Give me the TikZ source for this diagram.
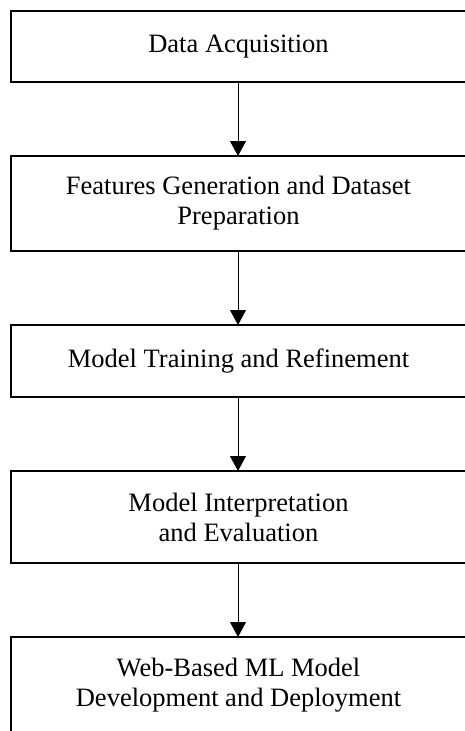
\documentclass[tikz,border=0pt]{standalone}
\usepackage{fontspec}
\setmainfont{Liberation Serif}
\usepackage{tikz}
\usetikzlibrary{arrows.meta,positioning}

\begin{document}
\begin{tikzpicture}[x=1pt, y=1pt,
  stagebox/.style={draw=black, line width=1.6pt, outer sep=0pt, minimum width=455pt, align=center, font=\fontsize{26.5}{30}\selectfont},
  flow/.style={draw=black, line width=0.9pt, -{Triangle[width=16pt,length=15pt]}},
]
\useasboundingbox (0,0) rectangle (465,-731);
\clip (0,0) rectangle (465,-731);

% Stages
\node[stagebox, minimum height=71pt] (acq) at (238.5,-46.5) {Data Acquisition};
\node[stagebox, minimum height=95pt, below=74pt of acq] (feat) {Features Generation and Dataset\\Preparation};
\node[stagebox, minimum height=72pt, below=74pt of feat] (train) {Model Training and Refinement};
\node[stagebox, minimum height=92pt, below=74pt of train] (interp) {Model Interpretation\\and Evaluation};
\node[stagebox, minimum height=96pt, below=74pt of interp] (deploy) {Web-Based ML Model\\Development and Deployment};

% Arrows
\draw[flow] (acq.south -| 238,0) -- (feat.north -| 238,0);
\draw[flow] (feat.south -| 238,0) -- (train.north -| 238,0);
\draw[flow] (train.south -| 238,0) -- (interp.north -| 238,0);
\draw[flow] (interp.south -| 238,0) -- (deploy.north -| 238,0);
\end{tikzpicture}
\end{document}
